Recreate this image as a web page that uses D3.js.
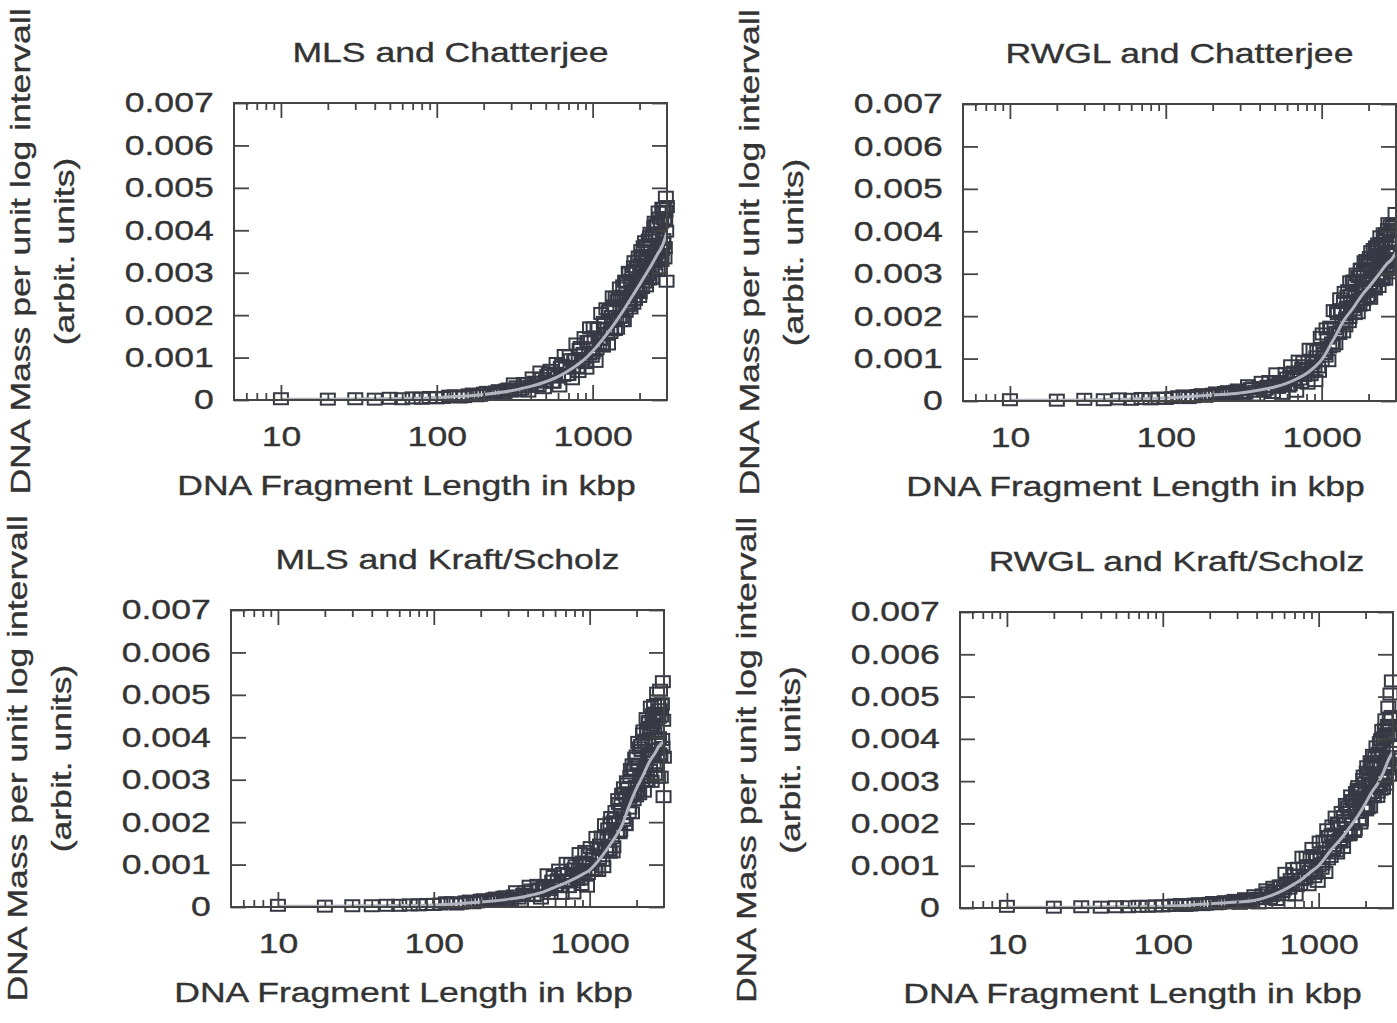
<!DOCTYPE html>
<html><head><meta charset="utf-8">
<script src="https://cdn.jsdelivr.net/npm/d3@7"></script>
<style>
body{margin:0;background:#fff;}
svg{display:block;}
</style></head><body>
<svg id="chart" width="1397" height="1023"></svg>
<script>
// ---- data ----
// first sampling of fragment lengths (kbp)
const xValues = [10,20,30,40,50,60,70,80,90,100,
120,140,160,180,200,220,240,260,280,300,
325,350,375,400,425,450,475,500,525,550,575,600,625,650,675,700,725,750,775,800,825,850,875,900,925,950,975,1000,
1030,1060,1090,1120,1150,1180,1210,1240,1270,1300,1330,1360,1390,1420,1450,1480,1510,1540,1570,1600,1630,1660,1690,1720,1750,1780,1810,1840,1870,1900,1930,1960,1990,2020,2050,2080,2110,2140,2170,2200,2230,2260,2290,2320,2350,2380,2410,2440,2470,2500,2530,2560,2590,2620,2650,2680,2710,2740,2770,2800,2830,2860,2890,2920,2950,2980];
// second (interleaved) sampling of fragment lengths (kbp)
const x2Values = [110,130,150,170,190,210,230,250,270,290,
312,337,362,387,412,437,462,487,512,537,562,587,612,637,662,687,712,737,762,787,812,837,862,887,912,937,962,987,
1015,1045,1075,1105,1135,1165,1195,1225,1255,1285,1315,1345,1375,1405,1435,1465,1495,1525,1555,1585,1615,1645,1675,1705,1735,1765,1795,1825,1855,1885,1915,1945,1975,2005,2035,2065,2095,2125,2155,2185,2215,2245,2275,2305,2335,2365,2395,2425,2455,2485,2515,2545,2575,2605,2635,2665,2695,2725,2755,2785,2815,2845,2875,2905,2935,2965,2995];

const mlsChatterjee = [.00003,.00002,.00003,.00002,.00004,.00003,.00005,.00004,.00006,.00005,
.00009,.00007,.00012,.00010,.00016,.00013,.00019,.00016,.00024,.00021,
.00031,.00026,.00038,.00032,.00042,.00033,.00051,.00045,.00063,.00042,.00063,.00054,.00077,.00058,.00075,.00060,.00095,.00078,.00095,.00077,.00119,.00090,.00110,.00088,.00138,.00108,.00138,.00111,
.00149,.00121,.00169,.00143,.00129,.00183,.00167,.00155,.00209,.00159,
.00197,.00222,.00166,.00196,.00234,.00195,.00237,.00187,.00269,.00235,
.00209,.00278,.00229,.00299,.00217,.00272,.00254,.00314,.00237,.00305,
.00259,.00327,.00244,.00301,.00352,.00265,.00334,.00294,.00373,.00269,
.00340,.00295,.00377,.00288,.00393,.00340,.00287,.00385,.00326,.00419,
.00310,.00412,.00351,.00305,.00443,.00382,.00339,.00419,.00329,.00452,
.00369,.00451,.00335,.00422,.00478,.00280];
const mlsChatterjee2 = [.00006,.00010,.00008,.00014,.00011,.00018,.00014,.00022,.00017,.00026,
.00038,.00022,.00039,.00021,.00052,.00035,.00066,.00029,.00058,.0007,.00042,.00086,.00033,.00082,.00105,.0006,.00104,.0005,.00094,.00132,.00067,.00124,.00096,.00147,.00075,.00137,.0017,.00103,
.0017,.00091,.00169,.00133,.00204,.00127,.0018,.00215,.00132,.00213,
.00165,.00243,.0019,.00242,.00169,.00239,.00264,.00195,.00245,.00187,
.0028,.00252,.00224,.00301,.00223,.00282,.003,.00228,.00326,.00265,
.00313,.00256,.00337,.00253,.00319,.0034,.00289,.00361,.00278,.0033,
.00364,.003,.00361,.00285,.00384,.00366,.00316,.00388,.00341,.00408,
.00321,.0039,.00346,.00415,.0033,.00393,.00429,.00359,.0042,.00355,
.00443,.00378,.00427,.00359,.00445,.00398,.00456];

const rwglChatterjee = [.00003,.00002,.00004,.00003,.00005,.00004,.00006,.00005,.00007,.00006,
.00010,.00008,.00013,.00011,.00016,.00014,.00020,.00017,.00023,.00020,
.00019,.00029,.00023,.00032,.00024,.00035,.00034,.00045,.00032,.00042,.00038,.00054,.00038,.00059,.00051,.00064,.00052,.00077,.00060,.00074,.00093,.00062,.00090,.00082,.00104,.00080,.00119,.00095,
.00113,.00106,.00148,.00127,.00172,.00130,.00170,.00162,.00206,.00159,
.00210,.00182,.00235,.00177,.00220,.00260,.00197,.00249,.00222,.00283,
.00206,.00261,.00229,.00294,.00226,.00310,.00268,.00227,.00305,.00258,
.00331,.00246,.00327,.00277,.00242,.00352,.00304,.00271,.00335,.00264,
.00363,.00297,.00364,.00270,.00341,.00387,.00291,.00367,.00290,.00394,
.00326,.00287,.00394,.00351,.00318,.00418,.00310,.00375,.00413,.00302,
.00348,.00410,.00336,.00402,.00311,.00442];
const rwglChatterjee2 = [.00008,.00012,.00010,.00015,.00013,.00019,.00016,.00022,.00019,.00026,
.00015,.00036,.00031,.00014,.00044,.00028,.00046,.0002,.00064,.00046,.00018,.00065,.00035,.00083,.00068,.00023,.00094,.00044,.00092,.00083,.00042,.00122,.00069,.00121,.00048,.00118,.0007,.0015,
.00158,.00112,.0017,.00095,.00174,.00137,.00213,.00135,.00211,.0016,
.00241,.00215,.00163,.00256,.00195,.00247,.00187,.00281,.00223,.00278,
.00215,.00272,.00299,.00208,.00293,.00239,.00311,.00284,.00239,.00328,
.00263,.00321,.00307,.00247,.00338,.00265,.00329,.00289,.00357,.00267,
.00346,.00336,.00284,.0037,.003,.00336,.00371,.00286,.00352,.0031,
.00388,.00371,.00309,.00389,.00345,.00404,.00333,.00387,.00314,.00403,
.00376,.00331,.00417,.00354,.00398,.00328,.00416];

const mlsKraftScholz = [.00004,.00002,.00003,.00003,.00004,.00004,.00005,.00005,.00006,.00006,
.00010,.00007,.00012,.00010,.00016,.00013,.00019,.00016,.00023,.00019,
.00026,.00021,.00030,.00027,.00040,.00028,.00043,.00038,.00046,.00041,.00061,.00050,.00064,.00048,.00079,.00062,.00078,.00060,.00073,.00090,.00070,.00088,.00066,.00106,.00084,.00104,.00079,.00100,
.00088,.00121,.00089,.00139,.00115,.00136,.00110,.00163,.00132,.00168,
.00134,.00198,.00163,.00142,.00209,.00196,.00176,.00244,.00179,.00242,
.00210,.00281,.00195,.00259,.00290,.00223,.00260,.00324,.00222,.00322,
.00267,.00351,.00262,.00335,.00388,.00267,.00314,.00381,.00296,.00408,
.00273,.00387,.00333,.00444,.00298,.00385,.00438,.00322,.00471,.00296,
.00429,.00355,.00475,.00313,.00457,.00389,.00504,.00306,.00447,.00361,
.00511,.00306,.00477,.00395,.00531,.00260];
const mlsKraftScholz2 = [.00007,.00010,.00009,.00014,.00012,.00017,.00014,.00021,.00017,.00024,
.00016,.00036,.00014,.00036,.00049,.00027,.00051,.00021,.00049,.00076,.00032,.00072,.00051,.00087,.00032,.00078,.00103,.00048,.00102,.00033,.00097,.00065,.00126,.00053,.001,.00131,.00049,.00125,
.0014,.00113,.00086,.00164,.00086,.00146,.00165,.00095,.00194,.00135,
.00184,.00129,.00211,.0013,.00201,.00225,.00178,.00253,.00175,.0023,
.00266,.00204,.00268,.00194,.00295,.00279,.00233,.00308,.00265,.00335,
.00253,.00325,.00285,.00356,.00273,.00337,.00375,.00306,.00369,.00305,
.00415,.00324,.00393,.00298,.00419,.00353,.00434,.00423,.00307,.00412,
.00358,.00453,.0034,.00409,.00454,.00334,.00442,.00371,.00476,.00399,
.00465,.00357,.0045,.00479,.00376,.0044,.00353];

const rwglKraftScholz = [.00004,.00002,.00003,.00002,.00003,.00003,.00004,.00004,.00005,.00005,
.00007,.00006,.00009,.00008,.00011,.00010,.00013,.00012,.00016,.00014,
.00014,.00020,.00015,.00023,.00023,.00022,.00036,.00029,.00040,.00032,.00052,.00045,.00059,.00047,.00061,.00078,.00053,.00077,.00067,.00094,.00070,.00100,.00086,.00100,.00124,.00082,.00117,.00099,
.00130,.00104,.00133,.00157,.00116,.00140,.00173,.00137,.00175,.00135,
.00201,.00162,.00190,.00157,.00216,.00173,.00201,.00239,.00173,.00233,
.00198,.00254,.00181,.00244,.00226,.00280,.00211,.00278,.00208,.00258,
.00304,.00235,.00296,.00232,.00334,.00265,.00301,.00239,.00340,.00273,
.00361,.00263,.00334,.00300,.00381,.00264,.00361,.00290,.00391,.00281,
.00360,.00420,.00283,.00402,.00332,.00445,.00293,.00412,.00356,.00475,
.00314,.00448,.00506,.00337,.00537,.00358];
const rwglKraftScholz2 = [.00006,.00008,.00007,.00010,.00009,.00013,.00011,.00015,.00013,.00018,
.00011,.00022,.00017,.00029,.00012,.00031,.00043,.00023,.00049,.0002,.00052,.00039,.00082,.00031,.00067,.00093,.00031,.00094,.00056,.0012,.00076,.0012,.00055,.00118,.00141,.00074,.00121,.00063,
.00156,.00094,.00158,.00084,.00185,.00169,.00122,.00194,.00148,.00215,
.0013,.00199,.00156,.00226,.00143,.00207,.00245,.00176,.00239,.00175,
.00265,.00201,.00252,.00185,.00273,.00227,.00287,.00281,.00201,.00278,
.00242,.00312,.00234,.00286,.00321,.00237,.00317,.00268,.00346,.00292,
.00341,.00266,.00334,.00357,.00285,.00333,.00274,.00366,.00339,.0031,
.00398,.00302,.00373,.00393,.00305,.00422,.00348,.00405,.00335,.00432,
.00329,.00408,.00431,.00368,.00453,.00352,.00412];

const fitX = [10,20,50,100,200,300,400,500,600,700,800,900,1000,1200,1400,1600,1800,2000,2200,2400,2600,2800,3000];
const fitMlsChatterjee = [.00002,.00002,.00003,.00006,.00013,.00022,.00032,.00043,.00055,.00069,.00083,.00098,.00115,.0015,.00183,.00215,.00245,.00272,.00297,.0032,.00343,.00364,.00395];
const fitRwglChatterjee = [.00002,.00002,.00004,.00007,.00014,.00019,.00026,.00033,.00042,.00053,.00065,.0008,.00097,.00147,.00192,.0022,.00248,.00268,.00287,.00305,.00322,.00333,.0035];
const fitMlsKraftScholz = [.00002,.00002,.00003,.00005,.00012,.00018,.00026,.00035,.00047,.00057,.00067,.00077,.00087,.0012,.00155,.0019,.0024,.0028,.0031,.0034,.0036,.0038,.0039];
const fitRwglKraftScholz = [.00002,.00002,.00003,.00004,.0001,.00014,.00019,.0003,.00043,.00057,.00071,.00087,.001,.00137,.00165,.00193,.0022,.00248,.00275,.00295,.0032,.0035,.0037];

const panelTitles = ["MLS and Chatterjee","RWGL and Chatterjee","MLS and Kraft/Scholz","RWGL and Kraft/Scholz"];
const xTickValues = [10,100,1000];
const xTickLabels = ["10","100","1000"];
const xMinorTicks = [6,7,8,9,20,30,40,50,60,70,80,90,200,300,400,500,600,700,800,900,2000];
const yTickValues = [0,0.001,0.002,0.003,0.004,0.005,0.006,0.007];
const yTickLabels = ["0","0.001","0.002","0.003","0.004","0.005","0.006","0.007"];
const xAxisTitle = "DNA Fragment Length in kbp";
const yAxisTitle = "DNA Mass per unit log intervall";
const yAxisSubtitle = "(arbit. units)";

// ---- layout ----
const panels = [
  {left:234, top:103, w:433, h:297, data:mlsChatterjee, data2:mlsChatterjee2, fit:fitMlsChatterjee, title:panelTitles[0]},
  {left:963, top:104, w:433, h:297, data:rwglChatterjee, data2:rwglChatterjee2, fit:fitRwglChatterjee, title:panelTitles[1]},
  {left:231, top:610, w:433, h:297, data:mlsKraftScholz, data2:mlsKraftScholz2, fit:fitMlsKraftScholz, title:panelTitles[2]},
  {left:960, top:612, w:433, h:296, data:rwglKraftScholz, data2:rwglKraftScholz2, fit:fitRwglKraftScholz, title:panelTitles[3]}
];
const FONT = '"Liberation Sans", Arial, Helvetica, sans-serif';
const FS = 28, SX = 1.27;
const TXT = "#333";
const INK = "#444";
const MARK = "#373944";

const svg = d3.select("#chart");
svg.append("rect").attr("width",1397).attr("height",1023).attr("fill","#fff");

function label(g, x, y, text, rot, anchor){
  g.append("text")
    .attr("transform", `translate(${x},${y}) rotate(${rot}) scale(${SX},1)`)
    .attr("text-anchor", anchor || "middle")
    .attr("font-family", FONT).attr("font-size", FS).attr("fill", TXT)
    .attr("stroke", TXT).attr("stroke-width", 0.35)
    .text(text);
}

panels.forEach(p => {
  const g = svg.append("g").attr("transform", `translate(${p.left},${p.top})`);
  const x = d3.scaleLog().domain([5,3000]).range([0,p.w]);
  const y = d3.scaleLinear().domain([0,0.007]).range([p.h,0]);

  // data squares (two interleaved samplings)
  const pts = g.append("g").attr("fill","none").attr("stroke",MARK).attr("stroke-width",2);
  pts.selectAll("rect.a").data(p.data).join("rect").attr("class","a")
    .attr("x",(d,i)=>x(xValues[i])-7).attr("y",d=>y(d)-5.5)
    .attr("width",14).attr("height",11);
  pts.selectAll("rect.b").data(p.data2).join("rect").attr("class","b")
    .attr("x",(d,i)=>x(x2Values[i])-7).attr("y",d=>y(d)-5.5)
    .attr("width",14).attr("height",11);

  // fitted line
  const line = d3.line().x((d,i)=>x(fitX[i])).y(d=>y(d)).curve(d3.curveMonotoneX);
  g.append("path").datum(p.fit).attr("d",line)
    .attr("fill","none").attr("stroke","#b2b4be").attr("stroke-width",3);

  // axes (ticks inward, mirrored)
  const axes = g.append("g");
  axes.append("g").attr("transform",`translate(0,${p.h})`)
    .call(d3.axisBottom(x).tickValues(xMinorTicks).tickSize(-7).tickFormat(""));
  axes.append("g").attr("transform",`translate(0,${p.h})`)
    .call(d3.axisBottom(x).tickValues(xTickValues).tickSize(-15).tickPadding(26).tickFormat((d,i)=>xTickLabels[i]));
  axes.append("g").call(d3.axisTop(x).tickValues(xMinorTicks).tickSize(-7).tickFormat(""));
  axes.append("g").call(d3.axisTop(x).tickValues(xTickValues).tickSize(-15).tickFormat(""));
  axes.append("g")
    .call(d3.axisLeft(y).tickValues(yTickValues).tickSize(-15).tickPadding(16).tickFormat((d,i)=>yTickLabels[i]));
  axes.append("g").attr("transform",`translate(${p.w},0)`)
    .call(d3.axisRight(y).tickValues(yTickValues).tickSize(-15).tickFormat(""));
  axes.selectAll(".domain").remove();
  axes.selectAll(".tick line").attr("stroke",INK).attr("stroke-width",1.8);
  axes.selectAll(".tick text")
    .attr("font-family",FONT).attr("font-size",FS).attr("fill",TXT)
    .attr("stroke",TXT).attr("stroke-width",0.35)
    .attr("transform",`scale(${SX},1)`);
  axes.selectAll("g").attr("font-size",null).attr("font-family",null);

  // frame
  g.append("rect").attr("width",p.w).attr("height",p.h)
    .attr("fill","none").attr("stroke",INK).attr("stroke-width",2);

  // titles
  label(g, p.w/2, -41, p.title, 0);
  label(g, p.w/2 - 44, p.h + 95, xAxisTitle, 0);
  label(g, -204, p.h/2, yAxisTitle, -90);
  label(g, -160, p.h/2, yAxisSubtitle, -90);
});
</script>
</body></html>
